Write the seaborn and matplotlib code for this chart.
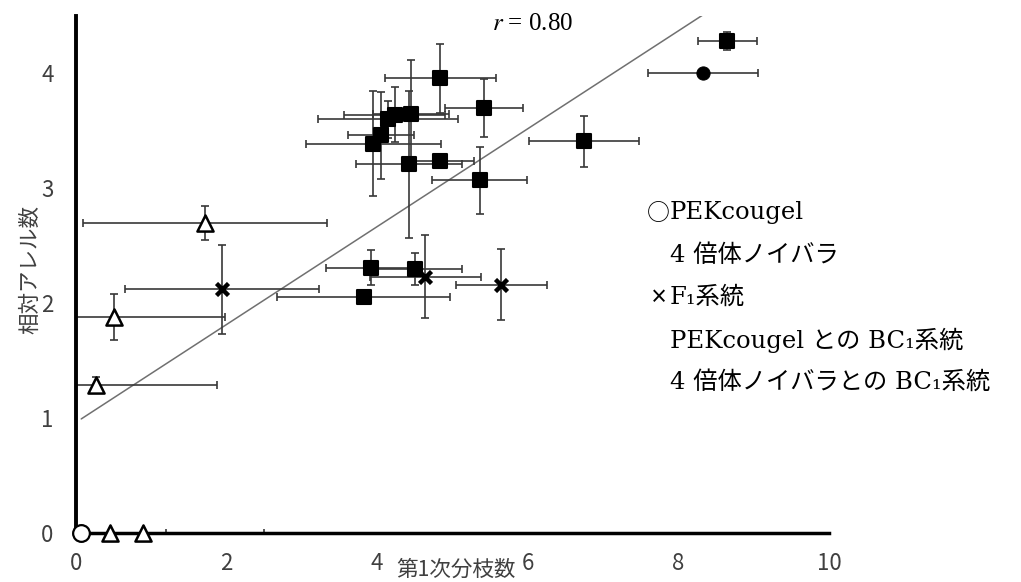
import numpy as np
import matplotlib
matplotlib.use("Agg")
import matplotlib.pyplot as plt
import seaborn as sns

# 第1次分枝数 (x) vs 相対アレル数 (y), mean ± error per line
pek_x = [0.07]
pek_y = [0.0]
pek_xerr = [0.0]
pek_yerr = [0.0]

noibara_x = [8.33]
noibara_y = [4.00]
noibara_xerr = [0.73]
noibara_yerr = [0.0]

f1_x = [1.94, 4.64, 5.65]
f1_y = [2.12, 2.23, 2.16]
f1_xerr = [1.29, 0.74, 0.61]
f1_yerr = [0.39, 0.36, 0.31]

bc_pek_x = [1.71, 0.50, 0.27, 0.45, 0.89]
bc_pek_y = [2.70, 1.88, 1.29, 0.0, 0.0]
bc_pek_xerr = [1.62, 1.48, 1.60, 0.74, 1.61]
bc_pek_yerr = [0.15, 0.20, 0.07, 0.0, 0.0]

bc_noi_x = [4.84, 5.42, 4.45, 4.23, 4.14, 4.05, 3.95, 4.42, 4.83, 5.36, 6.75,
            8.65, 3.92, 4.50, 3.82]
bc_noi_y = [3.96, 3.70, 3.65, 3.64, 3.60, 3.46, 3.39, 3.21, 3.24, 3.07, 3.41,
            4.28, 2.31, 2.30, 2.05]
bc_noi_xerr = [0.74, 0.52, 0.50, 0.67, 0.93, 0.44, 0.90, 0.70, 0.45, 0.63, 0.73,
               0.39, 0.60, 0.63, 1.15]
bc_noi_yerr = [0.30, 0.25, 0.47, 0.24, 0.16, 0.38, 0.46, 0.64, 0.03, 0.29, 0.22,
               0.08, 0.15, 0.14, 0.05]

# trendline from the chart
fit_slope = 0.426
fit_intercept = 0.963
r_label = "0.80"

legend_symbols = ["○", "", "×", "", ""]
legend_lines = ["PEKcougel", "4 倍体ノイバラ", "F₁系統",
                "PEKcougel との BC₁系統", "4 倍体ノイバラとの BC₁系統"]

sns.set_theme(style="white")
plt.rcParams['font.family'] = ['Noto Sans CJK JP', 'DejaVu Sans']
plt.rcParams['mathtext.fontset'] = 'stix'
SERIF = ['DejaVu Serif', 'Noto Sans CJK JP']
CJK = ['Noto Sans CJK JP', 'DejaVu Sans']

fig, ax = plt.subplots(figsize=(10.21, 5.82), dpi=100)
fig.subplots_adjust(left=0.0744, right=0.812, bottom=0.0842, top=0.9725)

err_kw = dict(fmt='none', ecolor='#383838', elinewidth=1.2, capsize=3, capthick=1.2, zorder=2)
groups = [
    (pek_x, pek_y, pek_xerr, pek_yerr),
    (noibara_x, noibara_y, noibara_xerr, noibara_yerr),
    (f1_x, f1_y, f1_xerr, f1_yerr),
    (bc_pek_x, bc_pek_y, bc_pek_xerr, bc_pek_yerr),
    (bc_noi_x, bc_noi_y, bc_noi_xerr, bc_noi_yerr),
]
for gx, gy, gxe, gye in groups:
    ax.errorbar(gx, gy, xerr=gxe, yerr=[e if e > 0 else np.nan for e in gye], **err_kw)

# trendline
all_x = pek_x + noibara_x + f1_x + bc_pek_x + bc_noi_x
lx = np.array([min(all_x), max(all_x)])
ax.plot(lx, fit_intercept + fit_slope * lx, color='#707070', lw=1.1, zorder=1)

sns.scatterplot(x=bc_noi_x, y=bc_noi_y, marker='s', s=90, color='black',
                edgecolor='black', linewidth=1.5, ax=ax, zorder=4)
sns.scatterplot(x=noibara_x, y=noibara_y, marker='o', s=90, color='black',
                edgecolor='black', ax=ax, zorder=4)
sns.scatterplot(x=f1_x, y=f1_y, marker='x', s=75, color='black',
                linewidth=3.2, ax=ax, zorder=4)
sns.scatterplot(x=bc_pek_x, y=bc_pek_y, marker='^', s=135, facecolor='white',
                edgecolor='black', linewidth=1.8, ax=ax, zorder=5, clip_on=False)
sns.scatterplot(x=pek_x, y=pek_y, marker='o', s=145, facecolor='white',
                edgecolor='black', linewidth=1.6, ax=ax, zorder=6, clip_on=False)

ax.set_xlim(0, 10)
ax.set_ylim(0, 4.5)
ax.set_xticks([0, 2, 4, 6, 8, 10])
ax.set_yticks([0, 1, 2, 3, 4])
ax.tick_params(direction='in', length=6, width=1.8, colors='black',
               labelsize=16, labelcolor='#404040')
ax.tick_params(axis='x', pad=14)
ax.tick_params(axis='y', pad=16)
for side in ['top', 'right']:
    ax.spines[side].set_visible(False)
ax.spines['left'].set_linewidth(2.8)
ax.spines['bottom'].set_linewidth(2.5)
ax.spines['left'].set_color('black')
ax.spines['bottom'].set_color('black')

ax.set_xlabel("第1次分枝数", fontsize=15.5, color='#404040', va='center')
ax.set_ylabel("相対アレル数", fontsize=15.5, color='#404040', va='center')
ax.xaxis.set_label_coords(0.505, -0.072)
ax.yaxis.set_label_coords(-0.061, 0.51)

ax.text(6.06, 4.43, "$r$ = " + r_label, fontsize=18, ha='center', va='center',
        family=['Liberation Serif', 'DejaVu Serif'], color='black')

legend_y = [213, 255, 297, 340, 382]
for sym, tx, py in zip(legend_symbols, legend_lines, legend_y):
    if sym == "○":
        fig.text(658 / 1021, 1 - py / 582, sym, fontsize=16.5, family=CJK,
                 ha='center', va='center', color='black')
    elif sym:
        fig.text(659 / 1021, 1 - py / 582, sym, fontsize=13, family=CJK,
                 ha='center', va='center', color='black', fontweight='bold')
    fig.text(670 / 1021, 1 - py / 582, tx, fontsize=17.5, family=SERIF,
             ha='left', va='center', color='black')

fig.savefig("out.png", dpi=100)
